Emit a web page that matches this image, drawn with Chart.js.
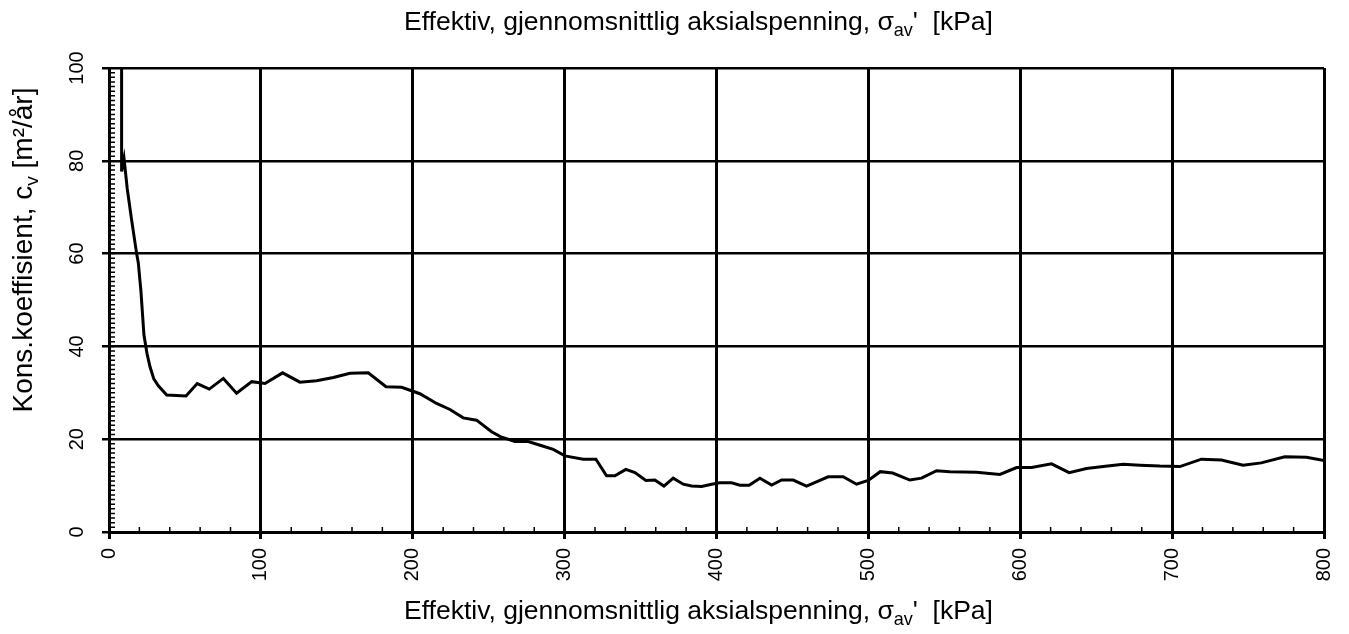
<!DOCTYPE html>
<html>
<head>
<meta charset="utf-8">
<script src="https://cdn.jsdelivr.net/npm/chart.js@4/dist/chart.umd.min.js"></script>
<style>
  html, body { margin: 0; padding: 0; background: #fff; }
  #wrap { width: 1349px; height: 634px; position: relative; }
</style>
</head>
<body>
<div id="wrap"><canvas id="cvChart"></canvas></div>
<script>
// effektiv aksialspenning [kPa] og konsolideringskoeffisient cv [m2/år]
var stress = [8.3, 8.3, 9.9, 12, 15, 18.2, 19.3, 21, 23, 25, 27, 29.5, 32.5, 38, 50.7, 58.1, 66, 75.3, 84, 94,
    102.7, 114.3, 125.7, 136.7, 147.7, 158.7, 170.7, 182.4, 192.7, 204.7, 215.7, 224.5, 233.2, 242, 251.9, 258,
    267.3, 276, 283.9, 292.5, 300.2, 312.2, 320.6, 327.6, 333.1, 340.3, 346.3, 353.5, 359.4, 365.4, 371.5, 378.1,
    383.6, 390.2, 396.8, 402.2, 409.9, 415.4, 421.5, 428.6, 436.3, 442.9, 450.5, 459.3, 465.8, 473.5, 483.4, 492.2,
    499.9, 507.8, 516, 527.3, 535, 544.9, 553.6, 571.2, 586.6, 597.6, 607.5, 620.6, 632.2, 643.6, 654.6, 667.8,
    678.8, 691.9, 705.1, 719.3, 732.5, 746.7, 758.7, 774.2, 788.5, 800];
var cv = [100, 77.7, 80.5, 74, 67, 60, 58, 52, 42.5, 38.5, 35.6, 33, 31.5, 29.5, 29.3, 32, 30.8, 33.1, 29.9, 32.4,
    32, 34.3, 32.3, 32.6, 33.3, 34.2, 34.3, 31.3, 31.2, 29.8, 27.7, 26.4, 24.6, 24.1, 21.6, 20.5,
    19.5, 19.5, 18.7, 17.8, 16.4, 15.7, 15.7, 12.1, 12.1, 13.5, 12.8, 11.1, 11.2, 9.9, 11.6, 10.3,
    9.9, 9.8, 10.3, 10.6, 10.6, 10.1, 10.1, 11.6, 10.1, 11.2, 11.2, 9.9, 10.8, 11.9, 11.9, 10.3,
    11.1, 13, 12.7, 11.2, 11.6, 13.2, 13, 12.9, 12.4, 13.9, 13.9, 14.7, 12.8, 13.7, 14.1, 14.6,
    14.4, 14.2, 14.1, 15.7, 15.5, 14.4, 14.9, 16.2, 16.1, 15.4];

var xTitle = [{ t: "Effektiv, gjennomsnittlig aksialspenning, σ" }, { t: "av", sub: true }, { t: "'  [kPa]" }];
var yTitle = [{ t: "Kons.koeffisient, c" }, { t: "v", sub: true }, { t: " [m²/år]" }];

var FONT = "'Liberation Sans', Arial, sans-serif";

var points = [];
for (var i = 0; i < stress.length; i++) {
    points.push({ x: stress[i], y: cv[i] });
}

function drawRich(ctx, parts, x, y, size, angle) {
    ctx.save();
    ctx.translate(x, y);
    ctx.rotate(angle);
    var total = 0;
    parts.forEach(function (p) {
        ctx.font = (p.sub ? size * 0.68 : size) + "px " + FONT;
        p.w = ctx.measureText(p.t).width;
        total += p.w;
    });
    var cx = -total / 2;
    ctx.textBaseline = "middle";
    ctx.textAlign = "left";
    ctx.fillStyle = "#000";
    parts.forEach(function (p) {
        ctx.font = (p.sub ? size * 0.68 : size) + "px " + FONT;
        ctx.fillText(p.t, cx, p.sub ? size * 0.3 : 0);
        cx += p.w;
    });
    ctx.restore();
}

// små merker innenfor aksene + aksetitler
var extras = {
    id: "extras",
    afterDraw: function (chart) {
        var ctx = chart.ctx;
        var a = chart.chartArea;
        var xs = chart.scales.x, ys = chart.scales.y;
        ctx.save();
        ctx.strokeStyle = "#000";
        ctx.lineWidth = 1.5;
        ctx.beginPath();
        for (var v = 0; v <= 100; v += 1) {
            var py = ys.getPixelForValue(v);
            ctx.moveTo(a.left, py);
            ctx.lineTo(a.left + 6, py);
        }
        for (var u = 0; u <= 800; u += 20) {
            var px = xs.getPixelForValue(u);
            ctx.moveTo(px, a.bottom);
            ctx.lineTo(px, a.bottom - 5);
        }
        ctx.stroke();
        ctx.restore();

        var mid = (a.left + a.right) / 2 - 18;
        drawRich(ctx, xTitle, mid, 23, 26.5, 0);
        drawRich(ctx, xTitle, mid, 612, 26.5, 0);
        drawRich(ctx, yTitle, 24, (a.top + a.bottom) / 2 - 50, 28, -Math.PI / 2);
    }
};

new Chart("cvChart", {
    type: "scatter",
    data: {
        datasets: [{
            data: points,
            showLine: true,
            borderColor: "#000",
            borderWidth: 3,
            pointRadius: 0,
            tension: 0
        }]
    },
    options: {
        responsive: true,
        maintainAspectRatio: false,
        animation: false,
        layout: { padding: { left: 0, right: 25, top: 68, bottom: 0 } },
        plugins: { legend: { display: false }, tooltip: { enabled: false } },
        scales: {
            x: {
                type: "linear",
                min: 0,
                max: 800,
                afterFit: function (s) {
                    s.height = 102;
                    s.paddingLeft = 0;
                    s.paddingRight = 0;
                },
                ticks: {
                    stepSize: 100,
                    minRotation: 90,
                    maxRotation: 90,
                    padding: 9,
                    color: "#000",
                    font: { family: FONT, size: 20 }
                },
                grid: { color: "#000", lineWidth: 3, tickLength: 7 },
                border: { color: "#000", width: 3 }
            },
            y: {
                min: 0,
                max: 100,
                afterFit: function (s) {
                    s.width = 109;
                    s.paddingTop = 0;
                    s.paddingBottom = 0;
                },
                ticks: {
                    stepSize: 20,
                    minRotation: 90,
                    maxRotation: 90,
                    crossAlign: "center",
                    padding: 8,
                    color: "#000",
                    font: { family: FONT, size: 20 }
                },
                grid: { color: "#000", lineWidth: 2.5, tickLength: 7 },
                border: { color: "#000", width: 3 }
            }
        }
    },
    plugins: [extras]
});
</script>
</body>
</html>
